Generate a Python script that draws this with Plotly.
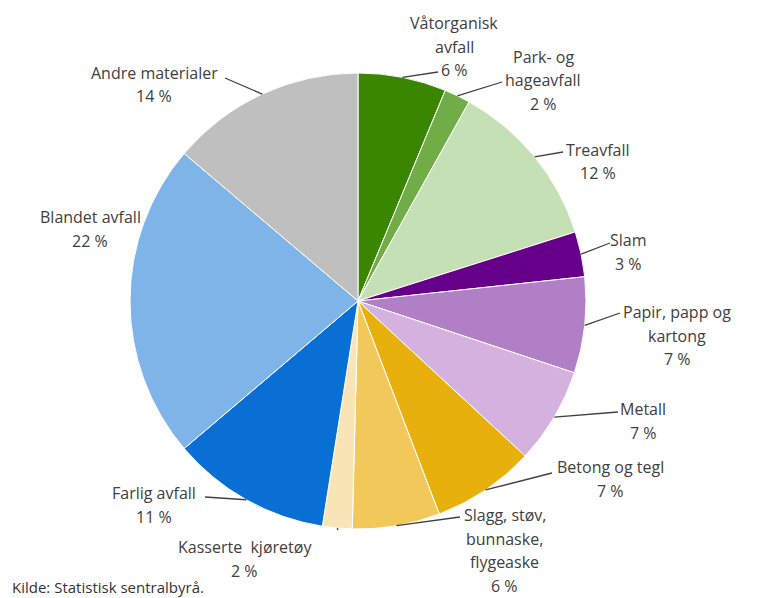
import math
import plotly.graph_objects as go

# ---- data ----
categories = ["Våtorganisk avfall", "Park- og hageavfall", "Treavfall", "Slam",
              "Papir, papp og kartong", "Metall", "Betong og tegl",
              "Slagg, støv, bunnaske, flygeaske", "Kasserte kjøretøy",
              "Farlig avfall", "Blandet avfall", "Andre materialer"]
values = [6.25, 1.85, 12.0, 3.2, 6.8, 6.8, 7.3, 6.2, 2.1, 11.3, 22.4, 13.8]
label_lines = [["Våtorganisk", "avfall"], ["Park- og", "hageavfall"], ["Treavfall"], ["Slam"],
               ["Papir, papp og", "kartong"], ["Metall"], ["Betong og tegl"],
               ["Slagg, støv,", "bunnaske,", "flygeaske"], ["Kasserte  kjøretøy"],
               ["Farlig avfall"], ["Blandet avfall"], ["Andre materialer"]]
colors = ["#3a8600", "#70ad47", "#c5e0b4", "#66008a", "#b07fc6", "#d4b1df",
          "#e8b00d", "#f2c85b", "#f8e4b4", "#0a6fd4", "#7fb4e8", "#bfbfbf"]
source = "Kilde: Statistisk sentralbyrå."

# ---- layout (pixels) ----
W, H = 769, 598
CX, CY, R = 358, 301, 228
# label block: centre x, first line y
label_pos = [(454, 23), (543, 57), (598, 150), (628, 240), (677, 312), (643, 409),
             (610, 467), (505, 515), (245, 547), (154, 493), (90, 217), (154, 73)]
# leader end points (label side); None = no leader
leader_end = [(438, 72), (502, 82), (563, 152), (610, 243), (620, 313), (618, 412),
              (552, 473), (460, 517), (338, 530), (205, 497), None, (225, 78)]
LINE_H = 23.5
TXT = "#404040"

def px(x):
    return x / W

def py(y):
    return 1 - y / H

fig = go.Figure(go.Pie(
    labels=categories, values=values, sort=False, direction="clockwise", rotation=0,
    marker=dict(colors=colors, line=dict(color="white", width=1)),
    textinfo="none", hoverinfo="label+percent", showlegend=False,
    domain=dict(x=[px(CX - R), px(CX + R)], y=[py(CY + R), py(CY - R)]),
))

annotations = []
shapes = []
total = sum(values)
cum = 0.0
for i, v in enumerate(values):
    mid = (cum + v / 2) / total * 2 * math.pi
    cum += v
    lines = label_lines[i] + [f"{round(v / total * 100)} %"]
    lx, ly = label_pos[i]
    for k, t in enumerate(lines):
        annotations.append(dict(x=px(lx), y=py(ly + k * LINE_H), xref="paper", yref="paper",
                                text=t, showarrow=False, xanchor="center", yanchor="middle",
                                font=dict(family="Open Sans", size=16, color=TXT)))
    if leader_end[i] is not None:
        sx = CX + R * math.sin(mid)
        sy = CY - R * math.cos(mid)
        ex, ey = leader_end[i]
        shapes.append(dict(type="line", xref="paper", yref="paper",
                           x0=px(sx), y0=py(sy), x1=px(ex), y1=py(ey),
                           line=dict(color=TXT, width=1.3)))

annotations.append(dict(x=px(10), y=py(587), xref="paper", yref="paper", text=source,
                        showarrow=False, xanchor="left", yanchor="middle",
                        font=dict(family="Open Sans", size=15, color="#333333")))

fig.update_layout(width=W, height=H, margin=dict(l=0, r=0, t=0, b=0),
                  paper_bgcolor="white", plot_bgcolor="white",
                  annotations=annotations, shapes=shapes)
fig.write_html("out.html", config={"displayModeBar": False},
               post_script="document.body.style.margin='0';document.body.style.overflow='hidden';")
